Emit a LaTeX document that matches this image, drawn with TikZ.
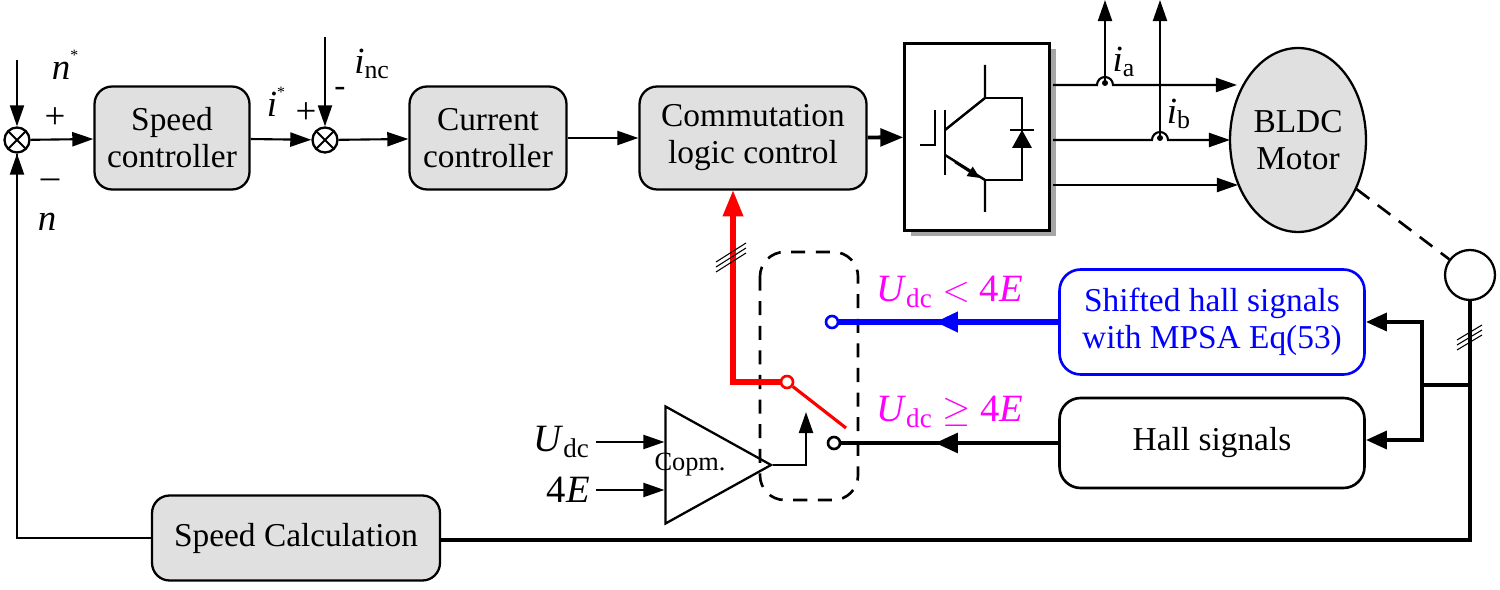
\documentclass[tikz,border=0pt]{standalone}
\usepackage{fontspec}
\setmainfont{Liberation Serif}
\usetikzlibrary{arrows.meta,shapes.geometric}
\definecolor{boxg}{RGB}{224,224,224}
\definecolor{mag}{RGB}{255,0,255}
\newcommand{\vi}[1]{\textit{#1}}
\begin{document}
\begin{tikzpicture}[x=0.02cm,y=-0.02cm,font=\fontsize{19}{21}\selectfont,
 blk/.style={draw,line width=1.3pt,rounded corners=10pt,fill=boxg,align=center,inner sep=0},
 arr/.style={-{Triangle[length=12pt,width=8pt]},line width=1.2pt},
 sumn/.style={draw,circle,line width=1.3pt,minimum size=0.5cm,inner sep=0,path picture={\draw[line width=1.1pt] (path picture bounding box.south west)--(path picture bounding box.north east) (path picture bounding box.north west)--(path picture bounding box.south east);}},
 thick3/.style={line width=2.6pt},
 big/.style={font=\fontsize{21}{24}\selectfont}]
\useasboundingbox (0,0) rectangle (1500,590);
% nodes
\node[sumn] (s1) at (17,140) {};
\node[sumn] (s2) at (325,140) {};
\node[blk,minimum width=3.1cm,minimum height=2.06cm] (sc) at (172,138) {Speed\\controller};
\node[blk,minimum width=3.14cm,minimum height=2.06cm] (cc) at (488,138) {Current\\controller};
\node[blk,minimum width=4.54cm,minimum height=2.06cm] (cl) at (753,138) {Commutation\\logic control};
\node[blk,minimum width=5.76cm,minimum height=1.7cm] (spc) at (296,538) {Speed Calculation};
\node[draw,line width=1.3pt,fill=boxg,ellipse,minimum width=2.72cm,minimum height=3.68cm,align=center,inner sep=0] (m) at (1298,140) {BLDC\\Motor};
\node[draw,circle,line width=1.3pt,minimum size=1cm,inner sep=0] (enc) at (1470,275) {};
\node[draw=blue,text=blue,line width=1.5pt,rounded corners=12pt,minimum width=6.1cm,minimum height=2.1cm,align=center,inner sep=0] (sh) at (1212,322) {Shifted hall signals\\with MPSA Eq(53)};
\node[draw,line width=1.5pt,rounded corners=12pt,minimum width=6.1cm,minimum height=1.8cm,inner sep=0] (hs) at (1212,443) {Hall signals};
% inverter
\fill[gray!70] (911,49) rectangle (1056,236);
\node[draw,fill=white,line width=1.5pt,minimum width=2.9cm,minimum height=3.74cm,inner sep=0] (inv) at (977,137) {};
\begin{scope}[line width=1.4pt]
\draw (945,110)--(945,175) (920,145)--(935,145)--(935,110);
\draw (985,65)--(985,98)--(945,130) (945,155)--(985,180)--(985,212);
\draw[-{Triangle[length=7pt,width=6pt]}] (955,162)--(980,178);
\draw (985,98)--(1022,98)--(1022,180)--(985,180);
\fill (1022,130)--(1012,148)--(1032,148)--cycle;
\draw (1010,130)--(1034,130);
\end{scope}
% top chain
\coordinate (nst) at (17,60);
\draw[arr] (nst)--(s1);
\node[big] at (65,65) {\vi{n}\raisebox{1.1ex}{\small *}};
\node[big] at (55,118) {+};
\node[big] at (50,184) {--};
\node[big] at (47,222) {\vi{n}};
\draw[arr] (s1)--(sc);
\draw[arr] (sc)--(s2);
\node[big] at (276,102) {\vi{i}\raisebox{1.1ex}{\small *}};
\node[big] at (306,113) {+};
\coordinate (inc) at (325,37);
\draw[arr] (inc)--(s2);
\node[big] at (372,64) {\vi{i}\textsubscript{nc}};
\node at (340,92) {-};
\draw[arr] (s2)--(cc);
\draw[arr] (cc)--(cl);
\draw[-{Triangle[length=13pt,width=10pt]},line width=2.2pt] (cl)--(inv);
% inverter outputs
\draw[arr] (1053,85)--(1097,85) arc(180:360:8) -- (1237,85);
\draw[arr] (1053,140)--(1152,140) arc(180:360:8) -- (1230,140);
\draw[arr] (1053,185)--(1238,185);
\fill (1105,83) circle (3);
\fill (1160,138) circle (3);
\draw[arr] (1105,83)--(1105,0);
\draw[arr] (1160,138)--(1160,0);
\node[big] at (1124,62) {\vi{i}\textsubscript{a}};
\node[big] at (1179,114) {\vi{i}\textsubscript{b}};
% motor-encoder
\draw[line width=1.5pt,dash pattern=on 9pt off 6pt] (m.-40)--(enc);
% feedback
\coordinate (br) at (1470,385);
\draw[thick3] (enc.south)--(1470,540)--(spc.east |- 0,540);
\draw[line width=1.3pt] (spc.west)--(17,538)--(s1);
\draw[arr] (17,300)--(s1);
\draw[thick3] (br)--(1422,385);
\draw[thick3,-{Triangle[length=12pt,width=10pt]}] (1422,385)--(1422,322)--(sh.east);
\draw[thick3,-{Triangle[length=12pt,width=10pt]}] (1422,385)--(1422,440)--(hs.east|-0,440);
\draw[line width=0.6pt] (1457,340)--(1482,325) (1457,345)--(1482,330) (1457,350)--(1482,335);
% switch
\draw[line width=1.5pt,rounded corners=14pt,dash pattern=on 8pt off 6pt] (760,252) rectangle (858,500);
\node[draw=blue,circle,line width=1.5pt,minimum size=0.24cm,inner sep=0] (cu) at (832,322) {};
\node[draw,circle,line width=1.5pt,minimum size=0.24cm,inner sep=0] (cd) at (834,443) {};
\node[draw=red,circle,line width=1.5pt,minimum size=0.24cm,inner sep=0] (pv) at (787,382) {};
\draw[blue,line width=3.2pt] (sh.west)--(cu);
\draw[blue,-{Triangle[length=13pt,width=11pt]},line width=3.2pt] (sh.west)--(935,322);
\draw[thick3] (hs.west)--(cd);
\draw[-{Triangle[length=13pt,width=11pt]},thick3] (hs.west)--(935,443);
\draw[red,line width=1.8pt] (pv)--(846,428);
\draw[red,line width=3.2pt,-{Triangle[length=15pt,width=11pt]}] (pv.west)--(733,382)--(733,190);
\draw[line width=0.6pt] (716,262)--(746,243) (716,267)--(746,248) (716,272)--(746,253);
\node[text=mag,anchor=west,font=\fontsize{22}{26}\selectfont] at (870,292) {\vi{U}\textsubscript{dc} $<$ 4\vi{E}};
\node[text=mag,anchor=west,font=\fontsize{22}{26}\selectfont] at (870,412) {\vi{U}\textsubscript{dc} $\geq$ 4\vi{E}};
% comparator
\node[draw,isosceles triangle,line width=1.3pt,minimum height=2.1cm,minimum width=2.34cm,inner sep=0,isosceles triangle apex angle=58] (cmp) at (700,465) {};
\node[font=\fontsize{15}{18}\selectfont] at (690,465) {Copm.};
\coordinate (ud) at (596,442);
\coordinate (fe) at (596,490);
\draw[arr] (ud)--(cmp.west|-0,442);
\draw[arr] (fe)--(cmp.west|-0,490);
\node[anchor=east,font=\fontsize{22}{26}\selectfont] at (ud) {\vi{U}\textsubscript{dc}};
\node[anchor=east,font=\fontsize{22}{26}\selectfont] at (fe) {4\vi{E}};
\draw[arr,line width=1.3pt] (cmp.apex)--(806,465)--(806,412);
\end{tikzpicture}
\end{document}
